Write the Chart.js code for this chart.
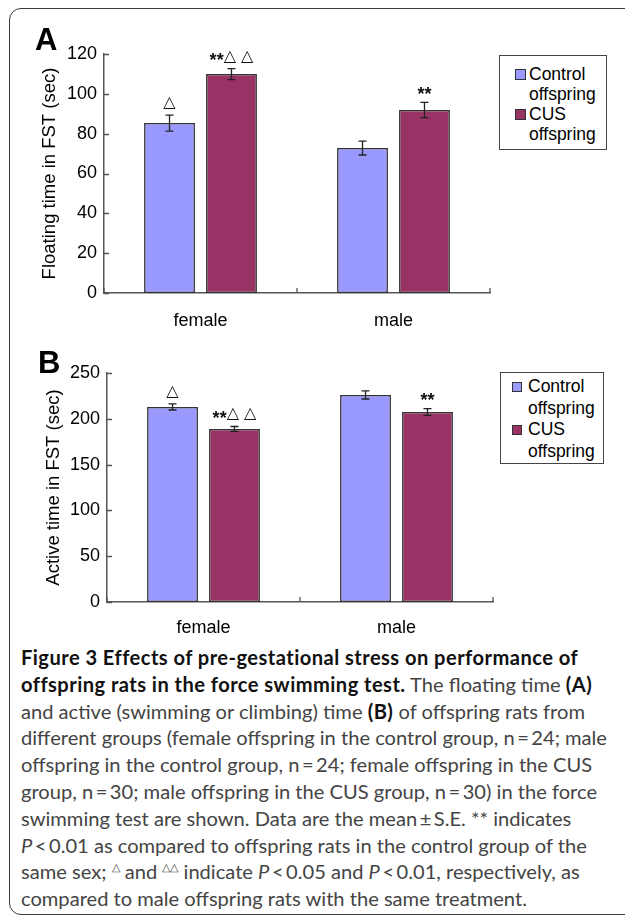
<!DOCTYPE html>
<html><head><meta charset="utf-8">
<script src="https://cdn.jsdelivr.net/npm/chart.js@4.4.1/dist/chart.umd.min.js"></script>
<style>
html,body{margin:0;padding:0;background:#fff;overflow:hidden;width:625px;height:918px;}
#frame{position:absolute;left:9px;top:8px;width:720px;height:907px;border:1.5px solid #3a3a3a;border-radius:12px;box-sizing:border-box;}
canvas{position:absolute;left:0;}
.panel{position:absolute;font:bold 31px 'Liberation Sans',Arial,sans-serif;line-height:31px;color:#000;}
.legend{position:absolute;border:1.5px solid #444;background:#fff;font:17.5px 'Liberation Sans',Arial,sans-serif;color:#000;box-sizing:border-box;}
.legend .item{position:relative;}
.legend .sw{position:absolute;width:11px;height:11px;border:1.3px solid #333;box-sizing:border-box;}
#caption{position:absolute;left:21px;top:644px;font-family:Lato,'Open Sans',sans-serif;color:#444;line-height:26.8px;white-space:nowrap;}
#caption b{color:#111;font-weight:bold;letter-spacing:0.45px;}
#caption sup{font-size:55%;vertical-align:0.7em;line-height:0;}
</style>
</head><body>
<div id="frame"></div>
<canvas id="cA" width="625" height="340" style="top:0px"></canvas>
<canvas id="cB" width="625" height="300" style="top:340px"></canvas>
<div class="panel" style="left:35px;top:24px">A</div>
<div class="panel" style="left:38px;top:347px">B</div>
<div class="legend" id="legA" style="left:499px;top:55px;width:108px;height:95px;"></div>
<div class="legend" id="legB" style="left:500px;top:372px;width:104px;height:92px;"></div>
<div id="caption">
<div><b>Figure 3 Effects of pre-gestational stress on performance of</b></div>
<div><b>offspring rats in the force swimming test.</b> The floating time <b>(A)</b></div>
<div>and active (swimming or climbing) time <b>(B)</b> of offspring rats from</div>
<div id="capRef">different groups (female offspring in the control group, n&#8201;=&#8201;24; male</div>
<div>offspring in the control group, n&#8201;=&#8201;24; female offspring in the CUS</div>
<div>group, n&#8201;=&#8201;30; male offspring in the CUS group, n&#8201;=&#8201;30) in the force</div>
<div>swimming test are shown. Data are the mean&#8201;±&#8201;S.E. ** indicates</div>
<div><i>P</i>&#8201;&lt;&#8201;0.01 as compared to offspring rats in the control group of the</div>
<div>same sex; <sup>△</sup> and <sup>△△</sup> indicate <i>P</i>&#8201;&lt;&#8201;0.05 and <i>P</i>&#8201;&lt;&#8201;0.01, respectively, as</div>
<div>compared to male offspring rats with the same treatment.</div>
</div>
<script>
// ---- data ----
const categories = ['female', 'male'];
const seriesNames = [['Control', 'offspring'], ['CUS', 'offspring']];

const floatControl = [85.3, 72.8];
const floatCUS = [109.9, 91.9];
const floatControlSE = [4.0, 3.5];
const floatCUSSE = [2.8, 3.8];
const floatControlMarks = ['△', ''];
const floatCUSMarks = ['**△ △', '**'];
const floatTickRange = [0, 120, 20];   // min, max, step
const floatTitle = 'Floating time in FST (sec)';

const activeControl = [212.9, 226.0];
const activeCUS = [188.9, 207.4];
const activeControlSE = [3.3, 4.4];
const activeCUSSE = [2.7, 3.7];
const activeControlMarks = ['△', ''];
const activeCUSMarks = ['**△ △', '**'];
const activeTickRange = [0, 250, 50];
const activeTitle = 'Active time in FST (sec)';

// ---- styles ----
const COLORS = ['#9999FF', '#993366'];
const AXIS = '#555';
const FONT = "'Liberation Sans', Arial, sans-serif";

function drawMark(ctx, text, cx, baseY) {
  const starFont = 'bold 18px ' + FONT;
  const triFont = "16px 'DejaVu Sans', sans-serif";
  const parts = [];
  let total = 0;
  for (const ch of text) {
    const f = ch === '*' ? starFont : triFont;
    ctx.font = f;
    const w = ctx.measureText(ch).width;
    parts.push({ch, f, w});
    total += w;
  }
  let x = cx - total / 2;
  ctx.fillStyle = '#111';
  ctx.textBaseline = 'alphabetic';
  ctx.textAlign = 'left';
  for (const p of parts) {
    ctx.font = p.f;
    ctx.fillText(p.ch, x, p.ch === '*' ? baseY + 5.5 : baseY);
    x += p.w;
  }
}

const extrasPlugin = {
  id: 'extras',
  afterDatasetsDraw(chart) {
    const ctx = chart.ctx;
    const ys = chart.scales.y, xs = chart.scales.x;
    ctx.save();
    ctx.strokeStyle = AXIS; ctx.lineWidth = 1.3;
    ctx.beginPath();
    ys.ticks.forEach(t => {
      const py = Math.round(ys.getPixelForValue(t.value)) + 0.5;
      ctx.moveTo(ys.right, py); ctx.lineTo(ys.right + 5, py);
    });
    for (let i = 0; i <= categories.length; i++) {
      const px = xs.getPixelForValue(i - 0.5);
      ctx.moveTo(px, xs.top); ctx.lineTo(px, xs.top - 5);
    }
    ctx.stroke();
    chart.data.datasets.forEach((ds, di) => {
      const meta = chart.getDatasetMeta(di);
      meta.data.forEach((bar, i) => {
        const v = ds.data[i], e = ds.se[i];
        const x = bar.x;
        const yt = ys.getPixelForValue(v + e), yb = ys.getPixelForValue(v - e);
        ctx.strokeStyle = '#222'; ctx.lineWidth = 1.3;
        ctx.beginPath();
        ctx.moveTo(x, yt); ctx.lineTo(x, yb);
        ctx.moveTo(x - 4, yt); ctx.lineTo(x + 4, yt);
        ctx.moveTo(x - 4, yb); ctx.lineTo(x + 4, yb);
        ctx.stroke();
        if (ds.marks[i]) drawMark(ctx, ds.marks[i], x, yt - 8);
      });
    });
    ctx.restore();
  }
};

function makeChart(id, ctrl, cus, ctrlSE, cusSE, ctrlMarks, cusMarks, range, title, lay) {
  return new Chart(document.getElementById(id), {
    type: 'bar',
    data: {
      labels: categories,
      datasets: [
        {label: seriesNames[0].join(' '), data: ctrl, se: ctrlSE, marks: ctrlMarks,
         backgroundColor: COLORS[0], borderColor: '#333', borderWidth: 1.5, borderSkipped: false,
         categoryPercentage: 0.642, barPercentage: 0.82},
        {label: seriesNames[1].join(' '), data: cus, se: cusSE, marks: cusMarks,
         backgroundColor: COLORS[1], borderColor: '#333', borderWidth: 1.5, borderSkipped: false,
         categoryPercentage: 0.642, barPercentage: 0.82}
      ]
    },
    options: {
      responsive: false, animation: false, devicePixelRatio: 1,
      layout: {padding: {top: lay.top, right: lay.right, bottom: 0, left: 0}},
      plugins: {legend: {display: false}, tooltip: {enabled: false}},
      scales: {
        x: {
          grid: {display: false, drawTicks: false},
          border: {display: true, color: AXIS, width: 1.5},
          ticks: {font: {family: FONT, size: 18}, color: '#000', padding: lay.xpad},
          afterFit: s => { s.height = lay.xh; }
        },
        y: {
          min: range[0], max: range[1],
          grid: {display: false, drawTicks: false},
          border: {display: true, color: AXIS, width: 1.5},
          ticks: {stepSize: range[2], font: {family: FONT, size: 18}, color: '#000', padding: 7},
          title: {display: true, text: title, font: {family: FONT, size: 18.5}, color: '#000',
                  padding: {top: lay.tpad, bottom: 0}},
          afterFit: s => { s.width = lay.yw; }
        }
      }
    },
    plugins: [extrasPlugin]
  });
}

makeChart('cA', floatControl, floatCUS, floatControlSE, floatCUSSE, floatControlMarks, floatCUSMarks,
  floatTickRange, floatTitle, {top: 54, right: 135, xh: 47, yw: 104, xpad: 17, tpad: 39});
makeChart('cB', activeControl, activeCUS, activeControlSE, activeCUSSE, activeControlMarks, activeCUSMarks,
  activeTickRange, activeTitle, {top: 33, right: 132, xh: 38, yw: 107, xpad: 15, tpad: 43});

// ---- legends ----
function buildLegend(id, o) {
  const el = document.getElementById(id);
  el.style.paddingTop = o.padTop + 'px';
  el.style.lineHeight = o.lh + 'px';
  seriesNames.forEach((lines, i) => {
    const item = document.createElement('div');
    item.className = 'item';
    item.style.paddingLeft = o.textLeft + 'px';
    const sw = document.createElement('div');
    sw.className = 'sw';
    sw.style.background = COLORS[i];
    sw.style.left = o.swLeft + 'px';
    sw.style.top = o.swTop + 'px';
    sw.style.width = o.sw + 'px'; sw.style.height = o.sw + 'px';
    item.appendChild(sw);
    lines.forEach(t => { const d = document.createElement('div'); d.textContent = t; item.appendChild(d); });
    el.appendChild(item);
  });
}
buildLegend('legA', {padTop: 8, lh: 20, textLeft: 29, swLeft: 15, swTop: 5, sw: 11});
buildLegend('legB', {padTop: 3, lh: 21.5, textLeft: 27, swLeft: 11, swTop: 6, sw: 10});

// ---- fit caption font to the reference line width ----
const cap = document.getElementById('caption');
cap.style.fontSize = '20px';
const ref = document.getElementById('capRef');
const sp = document.createElement('span');
sp.innerHTML = ref.innerHTML; ref.innerHTML = ''; ref.appendChild(sp);
const w = sp.getBoundingClientRect().width;
cap.style.fontSize = (20 * 586 / w).toFixed(2) + 'px';
</script>
</body></html>
